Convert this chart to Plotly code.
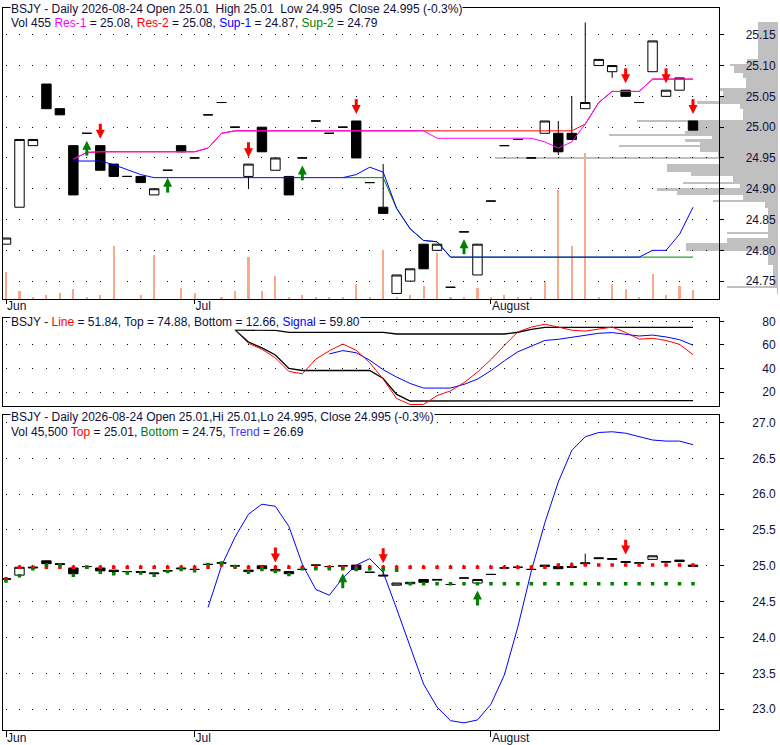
import plotly.graph_objects as go

# ---------------- data ----------------
dates = ["2026-06-10","2026-06-11","2026-06-12","2026-06-15","2026-06-16","2026-06-17","2026-06-18",
         "2026-06-22","2026-06-23","2026-06-24","2026-06-25","2026-06-26","2026-06-29","2026-06-30",
         "2026-07-01","2026-07-02","2026-07-06","2026-07-07","2026-07-08","2026-07-09","2026-07-10",
         "2026-07-13","2026-07-14","2026-07-15","2026-07-16","2026-07-17","2026-07-20","2026-07-21",
         "2026-07-22","2026-07-23","2026-07-24","2026-07-27","2026-07-28","2026-07-29","2026-07-30",
         "2026-07-31","2026-08-03","2026-08-04","2026-08-05","2026-08-06","2026-08-07","2026-08-10",
         "2026-08-11","2026-08-12","2026-08-13","2026-08-14","2026-08-17","2026-08-18","2026-08-19",
         "2026-08-20","2026-08-21","2026-08-24"]

open_ = [24.81, 24.87, 24.97, 25.07, 25.03, 24.97, 24.99, 24.97, 24.94, 24.92,
         24.92, 24.89, 24.93, 24.97, 24.95, 25.02, 25.04, 25.00, 24.92, 25.00,
         24.93, 24.92, 24.95, 25.01, 24.99, 25.00, 25.01, 24.91, 24.87, 24.73,
         24.75, 24.81, 24.80, 24.74, 24.83, 24.76, 24.88, 24.97, 24.98, 24.95,
         24.99, 24.99, 24.99, 25.03, 25.10, 25.09, 25.06, 25.04, 25.09, 25.05,
         25.06, 25.01]
high = [24.82, 24.98, 24.98, 25.07, 25.03, 24.97, 24.99, 24.97, 24.94, 24.92,
        24.92, 24.90, 24.93, 24.97, 24.95, 25.02, 25.04, 25.00, 24.94, 25.00,
        24.95, 24.92, 24.95, 25.01, 24.99, 25.00, 25.01, 24.91, 24.94, 24.76,
        24.77, 24.81, 24.81, 24.74, 24.83, 24.81, 24.88, 24.97, 24.98, 24.95,
        25.01, 25.01, 25.05, 25.17, 25.11, 25.10, 25.06, 25.04, 25.14, 25.06,
        25.08, 25.01]
low = [24.81, 24.87, 24.97, 25.03, 25.02, 24.89, 24.99, 24.93, 24.92, 24.92,
       24.91, 24.89, 24.93, 24.96, 24.95, 25.02, 25.04, 25.00, 24.90, 24.96,
       24.93, 24.89, 24.95, 25.01, 24.99, 25.00, 24.95, 24.91, 24.86, 24.73,
       24.75, 24.77, 24.80, 24.74, 24.83, 24.76, 24.88, 24.97, 24.98, 24.95,
       24.99, 24.955, 24.98, 25.03, 25.10, 25.08, 25.05, 25.04, 25.09, 25.05,
       25.06, 24.995]
close = [24.82, 24.98, 24.98, 25.03, 25.02, 24.89, 24.99, 24.93, 24.92, 24.92,
         24.91, 24.90, 24.93, 24.96, 24.95, 25.02, 25.04, 25.00, 24.94, 24.96,
         24.95, 24.89, 24.95, 25.01, 24.99, 25.00, 24.95, 24.91, 24.86, 24.76,
         24.77, 24.77, 24.81, 24.74, 24.83, 24.81, 24.88, 24.97, 24.98, 24.95,
         25.01, 24.96, 24.98, 25.04, 25.11, 25.10, 25.05, 25.04, 25.14, 25.06,
         25.08, 24.995]
# volume in hundreds of shares
volume = [1360, 400, 100, 200, 300, 500, 100, 200, 2680, 0,
          200, 2220, 0, 560, 300, 0, 100, 400, 2120, 400,
          1160, 100, 200, 100, 100, 100, 760, 100, 2470, 100,
          200, 660, 2320, 100, 100, 560, 100, 200, 100, 100,
          860, 5560, 2680, 7420, 100, 760, 500, 100, 1260, 200,
          660, 455]

res1 = [None, None, None, None, None, 24.948, 24.959, 24.96, 24.96, 24.96,
        24.96, 24.96, 24.96, 24.96, 24.96, 24.966, 24.99, 24.994, 24.994, 24.994,
        24.994, 24.994, 24.994, 24.994, 24.994, 24.994, 24.994, 24.994, 24.994, 24.994,
        24.994, 24.994, 24.982, 24.982, 24.982, 24.982, 24.982, 24.982, 24.982, 24.982,
        24.976, 24.966, 24.976, 25.005, 25.04, 25.058, 25.058, 25.058, 25.078, 25.078,
        25.078, 25.078]
res2 = [None, None, None, None, None, 24.948, 24.959, 24.96, 24.96, 24.96,
        24.96, 24.96, 24.96, 24.96, 24.96, 24.966, 24.99, 24.994, 24.994, 24.994,
        24.994, 24.994, 24.994, 24.994, 24.994, 24.994, 24.994, 24.994, 24.994, 24.994,
        24.994, 24.994, 24.994, 24.994, 24.994, 24.994, 24.994, 24.994, 24.994, 24.994,
        24.994, 24.994, 24.994, 25.005, 25.04, 25.058, 25.058, 25.058, 25.078, 25.078,
        25.078, 25.078]
sup1 = [None, None, None, None, None, 24.945, 24.945, 24.945, 24.939, 24.931,
        24.923, 24.918, 24.918, 24.918, 24.918, 24.918, 24.918, 24.918, 24.918, 24.918,
        24.918, 24.918, 24.918, 24.918, 24.918, 24.918, 24.923, 24.935, 24.927, 24.868,
        24.835, 24.816, 24.814, 24.789, 24.789, 24.789, 24.789, 24.789, 24.789, 24.789,
        24.789, 24.789, 24.789, 24.789, 24.789, 24.789, 24.789, 24.789, 24.80, 24.80,
        24.826, 24.87]
sup2 = [None, None, None, None, None, None, None, None, None, None,
        None, None, None, None, None, None, None, None, None, None,
        None, None, None, None, None, 24.918, 24.918, 24.918, 24.918, 24.868,
        24.835, 24.816, 24.814, 24.789, 24.789, 24.789, 24.789, 24.789, 24.789, 24.789,
        24.789, 24.789, 24.789, 24.789, 24.789, 24.789, 24.789, 24.789, 24.789, 24.789,
        24.789, 24.789]

# volume-at-price profile: price bin edges (top to bottom) and volume per bin
profile_edges = [25.1705, 25.1102, 25.1021, 25.0995, 25.0887, 25.0806, 25.0629, 25.0592, 25.0484,
                 25.0431, 25.0376, 25.0296, 25.0124, 25.0081, 24.9946, 24.9892, 24.9866, 24.9801,
                 24.9758, 24.9715, 24.9688, 24.9597, 24.9516, 24.9489, 24.9409, 24.9274, 24.9205,
                 24.9113, 24.9086, 24.9005, 24.8979, 24.8898, 24.8818, 24.8790, 24.8683, 24.8306,
                 24.8279, 24.8199, 24.8118, 24.7984, 24.7769, 24.7419, 24.7392, 24.7285]
profile_volume = [200, 310, 480, 440, 350, 320, 580, 550, 580, 810, 380, 350, 1410, 810, 930,
                  1690, 660, 930, 780, 1590, 780, 600, 2830, 580, 1110, 870, 450, 950, 380,
                  1210, 1010, 350, 650, 130, 100, 510, 100, 510, 920, 100, 50, 510, 10]

# oscillator panel
osc_line = [None, None, None, None, None, None, None, None, None, None,
            None, None, None, None, None, None, None, 72.7, 61.4, 56.3,
            49.0, 37.5, 35.5, 48.0, 55.0, 60.8, 55.5, 45.0, 31.0, 14.5,
            9.4, 9.5, 17.0, 21.0, 28.0, 37.0, 47.6, 59.7, 71.1, 75.2,
            77.6, 75.2, 72.5, 71.8, 73.8, 75.2, 70.6, 65.0, 65.6, 63.8,
            60.5, 51.84]
osc_top = [None, None, None, None, None, None, None, None, None, None,
           None, None, None, None, None, None, None, 72.7, 72.5, 72.4,
           72.3, 70.6, 70.6, 70.6, 70.6, 70.6, 70.6, 70.6, 70.6, 69.3,
           69.3, 69.3, 69.3, 69.3, 69.3, 69.3, 69.3, 69.3, 70.8, 73.2,
           74.88, 74.88, 74.88, 74.88, 74.88, 74.88, 74.88, 74.88, 74.88, 74.88,
           74.88, 74.88]
osc_bottom = [None, None, None, None, None, None, None, None, None, None,
              None, None, None, None, None, None, None, 72.7, 62.5, 57.5,
              51.5, 40.0, 38.3, 38.3, 38.3, 38.3, 38.3, 38.3, 31.5, 18.0,
              12.4, 12.4, 12.4, 12.4, 12.4, 12.4, 12.4, 12.4, 12.4, 12.66,
              12.66, 12.66, 12.66, 12.66, 12.66, 12.66, 12.66, 12.66, 12.66, 12.66,
              12.66, 12.66]
osc_signal = [None, None, None, None, None, None, None, None, None, None,
              None, None, None, None, None, None, None, None, None, None,
              None, None, None, None, 52.4, 55.2, 53.4, 47.0, 39.0, 32.7,
              27.3, 23.4, 23.4, 23.4, 26.5, 31.0, 38.2, 46.6, 54.2, 59.0,
              63.8, 64.8, 66.3, 68.0, 69.9, 70.5, 69.2, 67.6, 68.4, 66.8,
              64.5, 59.8]

# bottom panel: channel dots and trend
chan_top = [24.82, 24.98, 24.98, 24.98, 24.98, 24.98, 24.98, 24.98, 24.98, 24.98,
            24.98, 24.98, 24.98, 24.98, 24.98, 24.98, 25.01, 24.98, 24.98, 24.98,
            24.98, 24.98, 24.98, 24.98, 24.98, 24.98, 24.98, 24.98, 24.98, 24.98,
            24.98, 24.98, 24.98, 24.98, 24.98, 24.98, 24.98, 24.98, 24.98, 24.98,
            24.98, 25.01, 25.01, 25.01, 25.01, 25.01, 25.01, 25.01, 25.01, 25.01,
            25.01, 25.01]
chan_bottom = [24.79, 24.86, 24.96, 25.01, 25.01, 24.87, 24.98, 24.91, 24.89, 24.90,
               24.90, 24.87, 24.92, 24.95, 24.93, 25.02, 25.04, 24.99, 24.91, 24.95,
               24.92, 24.88, 24.96, 24.96, 24.96, 24.96, 24.95, 24.96, 24.95, 24.94,
               24.75, 24.75, 24.75, 24.75, 24.75, 24.75, 24.75, 24.75, 24.75, 24.75,
               24.75, 24.75, 24.75, 24.75, 24.75, 24.75, 24.75, 24.75, 24.75, 24.75,
               24.75, 24.75]
trend = [None, None, None, None, None, None, None, None, None, None,
         None, None, None, None, None, 24.42, 25.0, 25.40, 25.72, 25.86,
         25.83, 25.55, 25.02, 24.67, 24.59, 24.83, 25.01, 25.10, 24.91, 24.40,
         23.88, 23.35, 23.03, 22.84, 22.81, 22.85, 23.07, 23.48, 24.15, 24.93,
         25.60, 26.17, 26.61, 26.80, 26.86, 26.87, 26.85, 26.80, 26.755, 26.74,
         26.74, 26.69]

# signals (arrows)
p1_sell = ["2026-06-22", "2026-07-08", "2026-07-20", "2026-08-17", "2026-08-20", "2026-08-24"]
p1_buy = ["2026-06-18", "2026-06-29", "2026-07-14", "2026-07-30"]
p3_sell = ["2026-07-10", "2026-07-22", "2026-08-17"]
p3_buy = ["2026-07-17", "2026-07-31"]

month_ticks = ["2026-06-10", "2026-07-01", "2026-08-03"]
month_labels = ["Jun", "Jul", "August"]
p1_ticks = [24.75, 24.80, 24.85, 24.90, 24.95, 25.00, 25.05, 25.10, 25.15]
p2_ticks = [20, 40, 60, 80]
p3_ticks = [23.0, 23.5, 24.0, 24.5, 25.0, 25.5, 26.0, 26.5, 27.0]

# ---------------- layout constants ----------------
W, H = 780, 745
X_LEFT, X_RIGHT, PROFILE_RIGHT = 3, 719, 778
P1_TOP, P1_BOT = 5, 298
P2_TOP, P2_BOT = 317, 406
P3_TOP, P3_BOT = 415, 731.7
P1_RANGE = [24.721, 25.1935]
P2_RANGE = [7.93, 83.0]
P3_RANGE = [22.713, 27.101]
X_RANGE = [-0.223, 52.93]
VOL_RANGE = [0, 14800]
PROFILE_RANGE = [7750, 0]
LABEL_POS = 0.9945

FONT = "Liberation Sans, Arial, sans-serif"
TXT = "#10103a"
GRID_DASH = "0px,2.5px,1px,9.97px"


def ydom(top, bot):
    return [1 - bot / H, 1 - top / H]


xdom = [X_LEFT / W, X_RIGHT / W]
idx = {d: i for i, d in enumerate(dates)}
ppu1 = (P1_BOT - P1_TOP) / (P1_RANGE[1] - P1_RANGE[0])
ppu3 = (P3_BOT - P3_TOP) / (P3_RANGE[1] - P3_RANGE[0])

fig = go.Figure()

# volume profile (drawn first -> beneath)
centers = [(profile_edges[k] + profile_edges[k + 1]) / 2 for k in range(len(profile_volume))]
heights = [profile_edges[k] - profile_edges[k + 1] for k in range(len(profile_volume))]
fig.add_trace(go.Bar(y=centers, x=profile_volume, width=heights, orientation="h",
                     marker=dict(color="#c0c0c0", line=dict(width=0)),
                     xaxis="x", yaxis="y", hoverinfo="skip"))

# panel 1: volume bars (base axis y2)
fig.add_trace(go.Bar(x=dates, y=volume, width=0.16, marker=dict(color="#f8a88c", line=dict(width=0)),
                     xaxis="x2", yaxis="y2"))

# panel 1 lines
fig.add_trace(go.Scatter(x=dates, y=res2, mode="lines", line=dict(color="#ff0000", width=1),
                         xaxis="x2", yaxis="y6"))
fig.add_trace(go.Scatter(x=dates, y=res1, mode="lines", line=dict(color="#ff00ff", width=1),
                         xaxis="x2", yaxis="y6"))
fig.add_trace(go.Scatter(x=dates, y=sup2, mode="lines", line=dict(color="#008000", width=1),
                         xaxis="x2", yaxis="y6"))
fig.add_trace(go.Scatter(x=dates, y=sup1, mode="lines", line=dict(color="#0000ff", width=1),
                         xaxis="x2", yaxis="y6"))

candle_style = dict(increasing=dict(fillcolor="#ffffff", line=dict(color="#000000", width=1)),
                    decreasing=dict(fillcolor="#000000", line=dict(color="#000000", width=1)),
                    whiskerwidth=0)
fig.add_trace(go.Candlestick(x=dates, open=open_, high=high, low=low, close=close,
                             xaxis="x2", yaxis="y6", **candle_style))


def add_arrows(sig, ref, ppu, down, color, xa, ya):
    xs, ys, hx, hy = [], [], [], []
    for d in sig:
        i = idx[d]
        if down:
            tip = ref[i] + 7 / ppu
            y0, y1 = tip + 6 / ppu, tip + 15 / ppu
        else:
            tip = ref[i] - 7.5 / ppu
            y0, y1 = tip - 6 / ppu, tip - 15 / ppu
        xs += [d, d, None]
        ys += [y0, y1, None]
        hx.append(d)
        hy.append(tip)
    fig.add_trace(go.Scatter(x=xs, y=ys, mode="lines", line=dict(color=color, width=3),
                             xaxis=xa, yaxis=ya, hoverinfo="skip"))
    fig.add_trace(go.Scatter(x=hx, y=hy, mode="markers",
                             marker=dict(symbol="arrow-down" if down else "arrow-up", size=9,
                                         color=color, line=dict(width=0)),
                             xaxis=xa, yaxis=ya, hoverinfo="skip"))


add_arrows(p1_sell, high, ppu1, True, "#ff0000", "x2", "y6")
add_arrows(p1_buy, low, ppu1, False, "#008000", "x2", "y6")

# panel 2
fig.add_trace(go.Scatter(x=dates, y=osc_top, mode="lines", line=dict(color="#000000", width=1.3),
                         xaxis="x3", yaxis="y3"))
fig.add_trace(go.Scatter(x=dates, y=osc_bottom, mode="lines", line=dict(color="#000000", width=1.3),
                         xaxis="x3", yaxis="y3"))
fig.add_trace(go.Scatter(x=dates, y=osc_signal, mode="lines", line=dict(color="#0000ff", width=1),
                         xaxis="x3", yaxis="y3"))
fig.add_trace(go.Scatter(x=dates, y=osc_line, mode="lines", line=dict(color="#ff0000", width=1),
                         xaxis="x3", yaxis="y3"))

# panel 3
fig.add_trace(go.Scatter(x=dates, y=trend, mode="lines", line=dict(color="#0000ff", width=1),
                         xaxis="x4", yaxis="y4"))
fig.add_trace(go.Candlestick(x=dates, open=open_, high=high, low=low, close=close,
                             xaxis="x4", yaxis="y4", **candle_style))
fig.add_trace(go.Scatter(x=dates, y=chan_top, mode="markers",
                         marker=dict(symbol="square", size=3.5, color="#ff0000", line=dict(width=0)),
                         xaxis="x4", yaxis="y4"))
fig.add_trace(go.Scatter(x=dates, y=chan_bottom, mode="markers",
                         marker=dict(symbol="square", size=3.5, color="#008000", line=dict(width=0)),
                         xaxis="x4", yaxis="y4"))
add_arrows(p3_sell, high, ppu3, True, "#ff0000", "x4", "y4")
add_arrows(p3_buy, low, ppu3, False, "#008000", "x4", "y4")

# empty traces so the right-hand label axes get a subplot
for xa, ya in (("x2", "y7"), ("x3", "y8"), ("x4", "y9")):
    fig.add_trace(go.Scatter(x=[], y=[], xaxis=xa, yaxis=ya, hoverinfo="skip"))

# ---------------- axes ----------------
tickfont = dict(family=FONT, size=12, color=TXT)
box = dict(showline=True, mirror=True, linecolor="#000000", linewidth=1)
xcommon = dict(type="category", range=X_RANGE, domain=xdom, showgrid=False, zeroline=False,
               rangeslider=dict(visible=False), fixedrange=True, **box)
grid = dict(showgrid=True, gridcolor="#000000", gridwidth=1, griddash=GRID_DASH, zeroline=False)


def label_axis(over, rng, ticks, fmt):
    return dict(overlaying=over, anchor="free", position=LABEL_POS, side="left", range=rng,
                tickvals=ticks, tickformat=fmt, showgrid=False, zeroline=False, showline=False,
                ticks="", tickfont=tickfont)


fig.update_layout(
    width=W, height=H, margin=dict(l=0, r=0, t=0, b=0, pad=0),
    paper_bgcolor="#ffffff", plot_bgcolor="rgba(0,0,0,0)", showlegend=False,
    bargap=0, boxgap=0.3, boxgroupgap=0,
    xaxis=dict(domain=[X_LEFT / W, PROFILE_RIGHT / W], range=PROFILE_RANGE, visible=False, anchor="y"),
    yaxis=dict(domain=ydom(P1_TOP, P1_BOT), range=P1_RANGE, visible=False, anchor="x"),
    xaxis2=dict(anchor="y2", tickvals=month_ticks, ticktext=month_labels, ticks="outside",
                ticklen=4, tickcolor="#000000", ticklabelposition="outside right",
                ticklabelstandoff=-4, tickfont=tickfont, **xcommon),
    yaxis2=dict(domain=ydom(P1_TOP, P1_BOT), anchor="x2", range=VOL_RANGE, showgrid=False,
                zeroline=False, showticklabels=False, ticks="", **box),
    yaxis6=dict(overlaying="y2", anchor="x2", side="right", range=P1_RANGE, tickvals=p1_ticks,
                ticks="outside", ticklen=4, tickcolor="#000000", showticklabels=False,
                showline=False, **grid),
    yaxis7=label_axis("y2", P1_RANGE, p1_ticks, ".2f"),
    xaxis3=dict(anchor="y3", showticklabels=False, ticks="", **xcommon),
    yaxis3=dict(domain=ydom(P2_TOP, P2_BOT), anchor="x3", side="right", range=P2_RANGE,
                tickvals=p2_ticks, ticks="outside", ticklen=4, tickcolor="#000000",
                showticklabels=False, **box, **grid),
    yaxis8=label_axis("y3", P2_RANGE, p2_ticks, "d"),
    xaxis4=dict(anchor="y4", tickvals=month_ticks, ticktext=month_labels, ticks="outside",
                ticklen=6, tickcolor="#000000", ticklabelposition="outside right",
                ticklabelstandoff=-3, tickfont=tickfont, **xcommon),
    yaxis4=dict(domain=ydom(P3_TOP, P3_BOT), anchor="x4", side="right", range=P3_RANGE,
                tickvals=p3_ticks, ticks="outside", ticklen=4, tickcolor="#000000",
                showticklabels=False, **box, **grid),
    yaxis9=label_axis("y4", P3_RANGE, p3_ticks, ".1f"),
)

# ---------------- titles ----------------
def span(t, c):
    return f'<span style="color:{c}">{t}</span>'


NB = "\u00a0"
titles = [
    (6, f"BSJY - Daily 2026-08-24 Open 25.01{NB} High 25.01{NB} Low 24.995{NB} Close 24.995 (-0.3%)", True),
    (20.5, "Vol 455 " + span("Res-1", "#ff00ff") + " = 25.08, " + span("Res-2", "#ff0000") + " = 25.08, "
     + span("Sup-1", "#0000ff") + " = 24.87, " + span("Sup-2", "#008000") + " = 24.79", False),
    (321, "BSJY - " + span("Line", "#ff0000") + " = 51.84, Top = 74.88, Bottom = 12.66, "
     + span("Signal", "#0000ff") + " = 59.80", True),
    (416.7, "BSJY - Daily 2026-08-24 Open 25.01,Hi 25.01,Lo 24.995, Close 24.995 (-0.3%)", True),
    (431.5, "Vol 45,500 " + span("Top", "#ff0000") + " = 25.01, " + span("Bottom", "#008000")
     + " = 24.75, " + span("Trend", "#3b3bff") + " = 26.69", False),
]
for ypx, text, bg in titles:
    fig.add_annotation(xref="paper", yref="paper", x=10 / W, y=1 - ypx / H, xanchor="left",
                       yanchor="middle", text=text, showarrow=False,
                       font=dict(family=FONT, size=12, color=TXT),
                       bgcolor="#ffffff" if bg else "rgba(0,0,0,0)", borderpad=0)

fig.write_html("out.html", config={"displayModeBar": False},
               post_script="document.body.style.margin='0px';document.body.style.overflow='hidden';")
